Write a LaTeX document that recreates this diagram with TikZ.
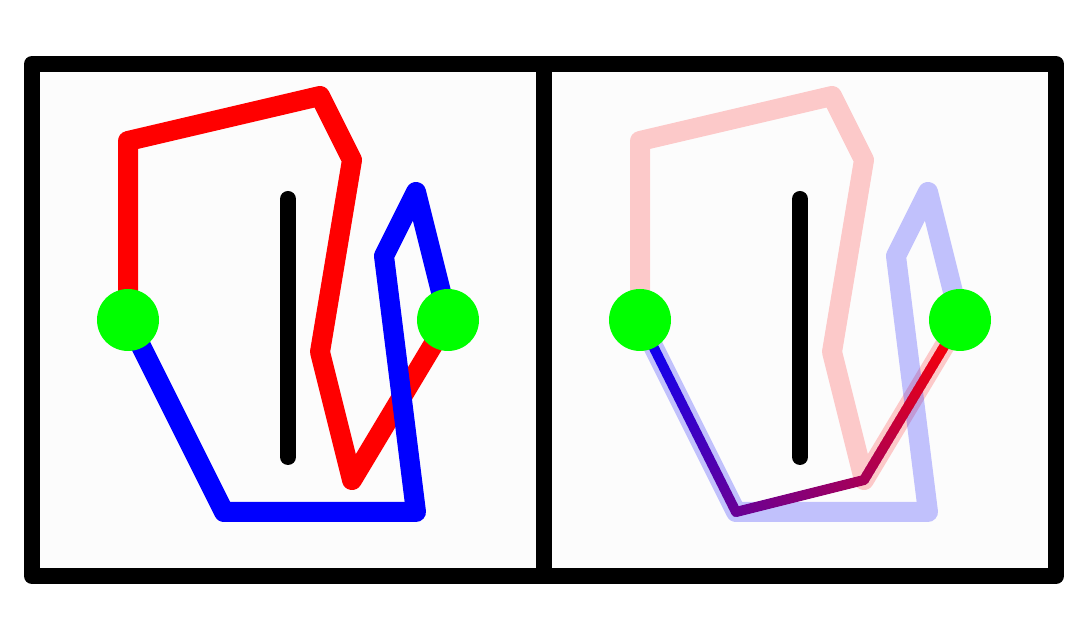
\documentclass[tikz,border=0pt]{standalone}
\usetikzlibrary{calc}
\definecolor{panelbg}{HTML}{FCFCFC}
\definecolor{dotgreen}{HTML}{00FF00}
\begin{document}
\begin{tikzpicture}[x=0.5pt,y=-0.5pt,
  pathline/.style={line width=10pt,line join=round,line cap=round},
  frameline/.style={line width=8pt,line join=round},
  barline/.style={line width=8pt,line cap=round,draw=black},
  dot/.style={circle,fill=dotgreen,draw=none,minimum size=31pt,inner sep=0pt},
  fadedred/.style={opacity=0.2},
  fadedblue/.style={opacity=0.23},
  gradseg/.style={line width=5pt,line cap=round}]
\fill[white] (0,0) rectangle (1088,640);
\useasboundingbox (0,0) rectangle (1088,640);
% frame and panels
\coordinate (f1) at (32,64);
\coordinate (f2) at (1056,576);
\coordinate (m1) at (544,64);
\coordinate (m2) at (544,576);
\fill[panelbg] (f1) rectangle (f2);
% points of both panels
\foreach \p/\o in {l/0,r/512} {
  \coordinate (\p A) at (128+\o,320);
  \coordinate (\p B) at (448+\o,320);
  \coordinate (\p r1) at (128+\o,141);
  \coordinate (\p r2) at (320+\o,96);
  \coordinate (\p r3) at (352+\o,160);
  \coordinate (\p r4) at (320+\o,352);
  \coordinate (\p r5) at (352+\o,480);
  \coordinate (\p b1) at (224+\o,512);
  \coordinate (\p b2) at (416+\o,512);
  \coordinate (\p b3) at (384+\o,256);
  \coordinate (\p b4) at (416+\o,192);
  \coordinate (\p k1) at (288+\o,199);
  \coordinate (\p k2) at (288+\o,457);
}
% left panel
\draw[pathline,red] (lA) -- (lr1) -- (lr2) -- (lr3) -- (lr4) -- (lr5) -- (lB);
\draw[pathline,blue] (lA) -- (lb1) -- (lb2) -- (lb3) -- (lb4) -- (lB);
\draw[barline] (lk1) -- (lk2);
% right panel
\draw[pathline,red,fadedred] (rA) -- (rr1) -- (rr2) -- (rr3) -- (rr4) -- (rr5) -- (rB);
\draw[pathline,blue,fadedblue] (rA) -- (rb1) -- (rb2) -- (rb3) -- (rb4) -- (rB);
\draw[barline] (rk1) -- (rk2);
\foreach \s/\e/\fa/\fb in {rA/rb1/0/40.26, rb1/rr5/40.26/65.01, rr5/rB/65.01/100} {
  \foreach \k in {0,...,31} {
    \pgfmathsetmacro\ta{\k/32}
    \pgfmathsetmacro\tb{(\k+1)/32}
    \pgfmathsetmacro\pc{\fa+(\fb-\fa)*(\k+0.5)/32}
    \draw[gradseg,draw=red!\pc!blue] ($(\s)!\ta!(\e)$) -- ($(\s)!\tb!(\e)$);
  }
}
% frame on top
\draw[frameline] (f1) rectangle (f2);
\draw[line width=8pt] (m1) -- (m2);
% green dots
\node[dot] (dlA) at (lA) {};
\node[dot] (dlB) at (lB) {};
\node[dot] (drA) at (rA) {};
\node[dot] (drB) at (rB) {};
\end{tikzpicture}
\end{document}
